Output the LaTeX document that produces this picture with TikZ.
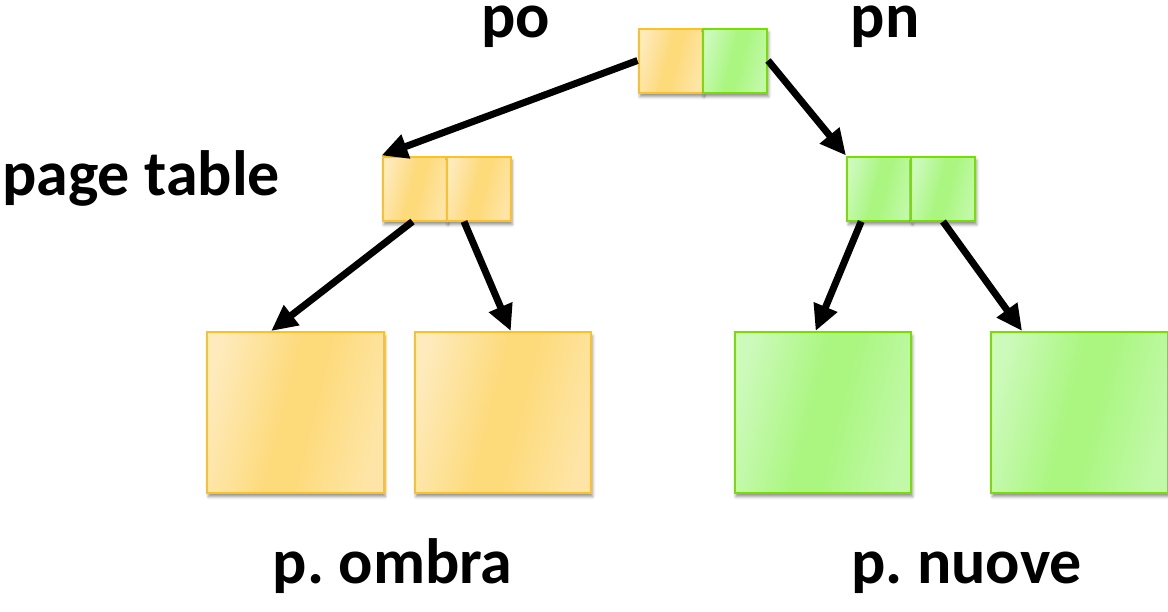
\documentclass[tikz,border=0pt]{standalone}
\usepackage{fontspec}
\setmainfont{Carlito}
\usetikzlibrary{arrows.meta,shadows.blur,calc}

\definecolor{obord}{RGB}{252,192,40}
\definecolor{olight}{RGB}{254,234,186}
\definecolor{omid}{RGB}{253,218,122}
\definecolor{gbord}{RGB}{120,222,0}
\definecolor{glight}{RGB}{204,250,186}
\definecolor{gmid}{RGB}{170,246,128}

% soft light-dark-light fills for the boxes
\pgfdeclarehorizontalshading{ofill}{100bp}{color(0bp)=(olight); color(25bp)=(olight);
  color(47bp)=(omid); color(54bp)=(omid); color(75bp)=(olight!70!omid); color(100bp)=(olight!70!omid)}
\pgfdeclarehorizontalshading{gfill}{100bp}{color(0bp)=(glight); color(25bp)=(glight);
  color(47bp)=(gmid); color(54bp)=(gmid); color(75bp)=(glight!70!gmid); color(100bp)=(glight!70!gmid)}

\tikzset{
  box/.style={draw, line width=2pt, inner sep=0pt, anchor=north west,
    blur shadow={shadow xshift=1.5pt, shadow yshift=-4pt,
                 shadow blur radius=3pt, shadow opacity=45}},
  obox/.style={box, draw=obord, shading=ofill, shading angle=-14},
  gbox/.style={box, draw=gbord, shading=gfill, shading angle=-14},
  cell/.style={minimum width=64pt, minimum height=64pt},
  page/.style={minimum width=176.5pt, minimum height=160.5pt},
  lbl/.style={font=\bfseries\fontsize{64}{64}\selectfont, inner sep=0pt, anchor=base,
              execute at begin node=\frenchspacing},
  link/.style={line width=7pt, -{Triangle[length=26pt,width=24pt]}},
}

\begin{document}
\begin{tikzpicture}[x=1pt, y=-1pt]
  \useasboundingbox (0,0) rectangle (1168,611);

  % root pointers
  \node[obox, cell] (po) at (637.5,27.5) {};
  \node[gbox, cell, minimum width=64.5pt] (pn) at (701.5,27.5) {};

  % page tables
  \node[obox, cell] (lt1) at (381.5,155.5) {};
  \node[obox, cell] (lt2) at (445.5,155.5) {};
  \node[gbox, cell] (rt1) at (846,155.5) {};
  \node[gbox, cell] (rt2) at (910,155.5) {};

  % pages
  \node[obox, page] (lp1) at (206,331) {};
  \node[obox, page] (lp2) at (413.5,331) {};
  \node[gbox, page] (rp1) at (733.5,331) {};
  \node[gbox, page] (rp2) at (990,331) {};

  % labels
  \node[lbl, text height=30pt] (tpo) at (516,37) {po};
  \node[lbl, text height=30pt] (tpn) at (885,37) {pn};
  \node[lbl] (tpt) at (141,195) {page table};
  \node[lbl] (tom) at (392.5,583) {p. ombra};
  \node[lbl] (tnu) at (966.5,583) {p. nuove};

  % pointers
  \draw[link] (po.west) -- (lt1.north west);
  \draw[link] (pn.east) -- (rt1.north west);
  \draw[link] ($(lt1.south west)!0.47!(lt1.south east)$) -- ($(lp1.north west)!0.365!(lp1.north east)$);
  \draw[link] ($(lt2.south west)!0.28!(lt2.south east)$) -- ($(lp2.north west)!0.545!(lp2.north east)$);
  \draw[link] ($(rt1.south west)!0.23!(rt1.south east)$) -- ($(rp1.north west)!0.46!(rp1.north east)$);
  \draw[link] ($(rt2.south west)!0.5!(rt2.south east)$) -- ($(rp2.north west)!0.18!(rp2.north east)$);
\end{tikzpicture}
\end{document}
